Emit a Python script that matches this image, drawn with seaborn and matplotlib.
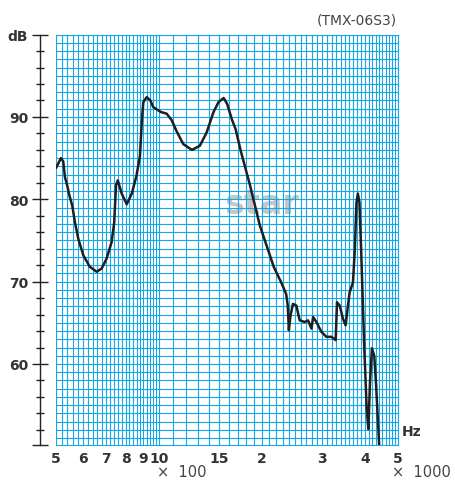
import numpy as np
import pandas as pd
import matplotlib
matplotlib.use('Agg')
import matplotlib.pyplot as plt
import seaborn as sns
from matplotlib.ticker import FixedLocator, NullLocator, NullFormatter

# Frequency response (Hz, dB)
freq_hz = [500, 517, 525, 531, 539, 547, 558, 568, 581, 601, 628, 658, 680, 703,
           727, 740, 749, 758, 778, 805, 833, 860, 880, 891, 900, 921, 944, 962,
           1013, 1053, 1090, 1125, 1178, 1249, 1317, 1378, 1444, 1493, 1546, 1582,
           1637, 1676, 1734, 1846, 1973, 2166, 2278, 2355, 2380, 2398, 2425, 2465,
           2521, 2580, 2669, 2729, 2792, 2823, 2887, 2986, 3088, 3195, 3287, 3316,
           3377, 3452, 3514, 3570, 3610, 3692, 3740, 3780, 3816, 3857, 3900, 3986,
           4049, 4095, 4141, 4196, 4261, 4310, 4405]
level_db = [83.8, 85.0, 84.6, 82.7, 81.7, 80.5, 79.2, 77.2, 75.2, 73.2, 71.8, 71.2, 71.6, 72.8,
            74.8, 77.2, 81.7, 82.3, 80.7, 79.4, 80.7, 82.9, 85.3, 89.4, 91.8, 92.4, 92.0, 91.2,
            90.6, 90.4, 89.6, 88.3, 86.7, 86.0, 86.5, 88.1, 90.6, 91.8, 92.3, 91.6,
            89.6, 88.5, 85.9, 81.7, 76.8, 71.8, 69.9, 68.5, 67.1, 64.1, 65.9, 67.3,
            67.1, 65.3, 65.1, 65.3, 64.3, 65.7, 65.1, 63.9, 63.3, 63.3, 62.9, 67.5,
            67.1, 65.5, 64.7, 67.1, 68.7, 69.9, 74.0, 79.6, 80.7, 79.6, 74.0, 61.8,
            54.6, 52.1, 57.8, 61.9, 61.0, 57.8, 50.1]

x_tick_values = [500, 600, 700, 800, 900, 1000, 1500, 2000, 3000, 4000, 5000]
x_tick_labels = ['5', '6', '7', '8', '9', '10', '15', '2', '3', '4', '5']
y_tick_values = [50.2, 60, 70, 80, 90, 100]
y_tick_labels = ['', '60', '70', '80', '90', 'dB']

sns.set_theme(style='white')
plt.rcParams['font.family'] = ['DejaVu Sans']

W, H = 455, 481
fig = plt.figure(figsize=(W / 100, H / 100), dpi=100)
fig.patch.set_facecolor('white')
ax = fig.add_axes([56 / W, 1 - 445.7 / H, (398 - 56) / W, (445.7 - 35.6) / H])
ax.set_facecolor('white')
ax.set_xscale('log')
ymin, ymax = 50.2, 100
ax.set_xlim(500, 5000)
ax.set_ylim(ymin, ymax)
ax.grid(False, which='both')

grid_color = '#14a8e6'
vx = np.concatenate([np.arange(500, 1000, 20), np.arange(1000, 5001, 100)])
ax.vlines(vx, ymin, ymax, colors=grid_color, lw=0.8, zorder=1)
hy = np.arange(51, 101, 1)
ax.hlines(hy, 500, 5000, colors=grid_color, lw=0.8, zorder=1)

# watermark beneath the grid, placed in figure coordinates
ax.text(262 / W, 1 - 204 / H, 'star', transform=fig.transFigure, ha='center',
        va='center', fontsize=24, fontweight='bold', color='#c6c6c6', zorder=0.5)

df = pd.DataFrame({'freq': freq_hz, 'db': level_db})
sns.lineplot(data=df, x='freq', y='db', sort=False, estimator=None,
             color='#1e1e1e', lw=1.8, ax=ax, zorder=3)
ax.set_xlabel('')
ax.set_ylabel('')

for s in ['top', 'right', 'bottom']:
    ax.spines[s].set_color(grid_color)
    ax.spines[s].set_linewidth(0.8)
ax.spines['left'].set_position(('outward', 11.5))
ax.spines['left'].set_color('#222222')
ax.spines['left'].set_linewidth(1.0)

ax.set_xticks(x_tick_values, x_tick_labels, fontweight='bold', fontsize=10, color='#333333')
ax.xaxis.set_minor_locator(NullLocator())
ax.xaxis.set_minor_formatter(NullFormatter())
ax.tick_params(axis='x', which='both', length=0, pad=4.5)

ax.set_yticks(y_tick_values, y_tick_labels, fontweight='bold', fontsize=10, color='#333333')
ax.yaxis.set_minor_locator(FixedLocator(np.arange(52, 100, 2)))
ax.tick_params(axis='y', which='major', direction='inout', length=11, width=1.0,
               color='#222222', pad=3, left=True)
ax.tick_params(axis='y', which='minor', direction='inout', length=6, width=1.0,
               color='#222222', left=True)

fig.text(402 / W, 1 - 432 / H, 'Hz', ha='left', va='center', fontsize=10,
         fontweight='bold', color='#333333')
fig.text(157 / W, 1 - 472.5 / H, '×  100', ha='left', va='center', fontsize=10.5,
         color='#444444')
fig.text(392 / W, 1 - 472.5 / H, '×  1000', ha='left', va='center', fontsize=10.5,
         color='#444444')
fig.text(397 / W, 1 - 20 / H, '(TMX-06S3)', ha='right', va='center', fontsize=10,
         color='#444444')

fig.savefig('out.png', dpi=100, facecolor='white')
